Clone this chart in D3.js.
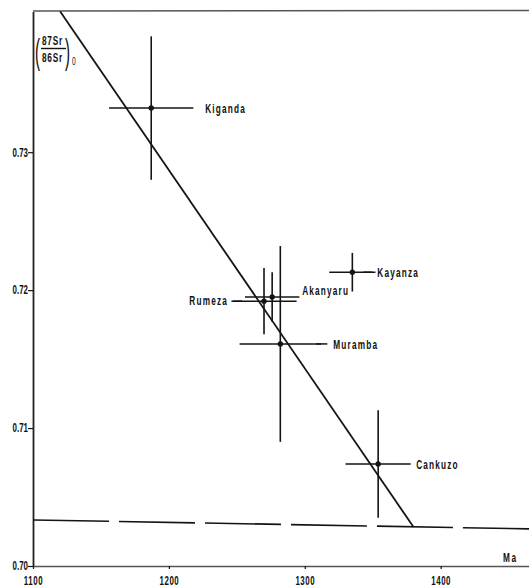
<!DOCTYPE html>
<html>
<head>
<meta charset="utf-8">
<script src="https://cdn.jsdelivr.net/npm/d3@7"></script>
<style>
  html, body { margin: 0; padding: 0; background: #fff; }
  svg { display: block; }
  text { font-family: "Liberation Sans", Arial, sans-serif; fill: #111; }
</style>
</head>
<body>
<svg id="chart" width="529" height="588"></svg>
<script>
// ---- data ----
const samples = ["Kiganda", "Rumeza", "Akanyaru", "Kayanza", "Muramba", "Cankuzo"];
const ages = [1187, 1270, 1276, 1335, 1282, 1354];           // Ma
const ageErr = [31, 24, 20, 17, 30, 24];                     // ± Ma
const ratios = [0.7332, 0.7192, 0.7195, 0.7213, 0.7161, 0.7074]; // (87Sr/86Sr)0
const ratioErr = [0.0052, 0.0024, 0.0018, 0.0014, 0.0071, 0.0039];
const regressionAges = [1120, 1380];
const regressionRatios = [0.7402, 0.70283];
const seawaterAges = [1100, 1465];
const seawaterRatios = [0.70334, 0.70269];
const xTicks = [1100, 1200, 1300, 1400];
const xTickLabels = ["1100", "1200", "1300", "1400"];
const yTicks = [0.70, 0.71, 0.72, 0.73];
const yTickLabels = ["0.70", "0.71", "0.72", "0.73"];

// ---- scales ----
const svg = d3.select("#chart");
const x = d3.scaleLinear().domain([1100, 1465]).range([33, 529]);
const y = d3.scaleLinear().domain([0.70, 0.7402]).range([566, 11.5]);

const ink = "#141414";
const SX = 0.66; // condensed lettering

function ctext(parent, px, py, str, opts = {}) {
  const gg = parent.append("g").attr("transform", `translate(${px},${py}) scale(${opts.sx || SX},1)`);
  return gg.append("text")
    .attr("x", 0).attr("y", 0)
    .attr("text-anchor", opts.anchor || "start")
    .attr("font-size", opts.size || 12)
    .attr("font-weight", opts.weight || "bold")
    .attr("letter-spacing", opts.ls != null ? opts.ls : 1.3)
    .text(str);
}

// top frame line
svg.append("line")
  .attr("x1", x(1100)).attr("x2", 529)
  .attr("y1", 11).attr("y2", 10.5)
  .attr("stroke", "#555").attr("stroke-width", 1.6);

// y axis
const yAxis = d3.axisLeft(y).tickValues(yTicks)
  .tickFormat((d, i) => yTickLabels[i]).tickSize(5).tickSizeOuter(0).tickPadding(4);
const gy = svg.append("g").attr("transform", `translate(${x(1100)},0)`).call(yAxis);
gy.select(".domain").attr("stroke", "#222").attr("stroke-width", 1.8);
gy.selectAll(".tick line").attr("stroke", ink).attr("stroke-width", 1.2);
gy.selectAll(".tick text").attr("font-size", 12).attr("font-family", "Liberation Sans, Arial")
  .attr("font-weight", "bold")
  .attr("fill", ink).attr("transform", `scale(${SX},1)`).attr("x", -5 / SX);

// x axis
const xAxis = d3.axisBottom(x).tickValues(xTicks)
  .tickFormat((d, i) => xTickLabels[i]).tickSize(3).tickSizeOuter(0).tickPadding(7);
const gx = svg.append("g").attr("transform", `translate(0,${y(0.70)})`).call(xAxis);
gx.select(".domain").attr("stroke", "#555").attr("stroke-width", 1.4);
gx.selectAll(".tick line").attr("stroke", ink).attr("stroke-width", 1.2);
gx.selectAll(".tick text").attr("font-size", 12).attr("font-family", "Liberation Sans, Arial")
  .attr("font-weight", "bold")
  .attr("fill", ink).attr("transform", `scale(${SX},1)`).attr("letter-spacing", 0.8);

// "Ma" label
ctext(svg, 503, 562, "Ma", { size: 12.5, ls: 2.5 });

// y-axis title: (87Sr/86Sr)0
ctext(svg, 35, 64, "(", { size: 36, ls: 0, sx: 0.42, weight: "normal" });
ctext(svg, 42, 45, "87Sr", { size: 12.5, ls: 1.2 });
svg.append("line").attr("x1", 41).attr("x2", 66).attr("y1", 48.5).attr("y2", 48.5)
  .attr("stroke", ink).attr("stroke-width", 1.4);
ctext(svg, 42, 62, "86Sr", { size: 12.5, ls: 1.2 });
ctext(svg, 65, 64, ")", { size: 36, ls: 0, sx: 0.42, weight: "normal" });
ctext(svg, 72, 65, "0", { size: 10, ls: 0, weight: "normal" });

// seawater dashed line
svg.append("line")
  .attr("x1", x(seawaterAges[0])).attr("y1", y(seawaterRatios[0]))
  .attr("x2", x(seawaterAges[1])).attr("y2", y(seawaterRatios[1]))
  .attr("stroke", ink).attr("stroke-width", 1.6)
  .attr("stroke-dasharray", "76,10");

// regression line
svg.append("line")
  .attr("x1", x(regressionAges[0])).attr("y1", y(regressionRatios[0]))
  .attr("x2", x(regressionAges[1])).attr("y2", y(regressionRatios[1]))
  .attr("stroke", ink).attr("stroke-width", 1.8);

// samples
const data = samples.map((s, i) => ({
  name: s, age: ages[i], ae: ageErr[i], r: ratios[i], re: ratioErr[i]
}));
const g = svg.append("g");
data.forEach(d => {
  g.append("line")
    .attr("x1", x(d.age - d.ae)).attr("x2", x(d.age + d.ae))
    .attr("y1", y(d.r)).attr("y2", y(d.r))
    .attr("stroke", ink).attr("stroke-width", 1.5);
  g.append("line")
    .attr("x1", x(d.age)).attr("x2", x(d.age))
    .attr("y1", y(d.r + d.re)).attr("y2", y(d.r - d.re))
    .attr("stroke", ink).attr("stroke-width", 1.6);
  g.append("circle").attr("cx", x(d.age)).attr("cy", y(d.r)).attr("r", 2.7).attr("fill", ink);
});

// labels with leader dashes
const labelSpec = {
  "Kiganda":  { dx: 54, dy: 5, dash: null },
  "Rumeza":   { dx: -36, dy: 4, dash: [-31, -22], anchor: "end" },
  "Akanyaru": { dx: 30, dy: -2, dash: null },
  "Kayanza":  { dx: 25, dy: 5, dash: [11, 20] },
  "Muramba":  { dx: 53, dy: 5, dash: [36, 47] },
  "Cankuzo":  { dx: 38, dy: 5, dash: null }
};
data.forEach(d => {
  const s = labelSpec[d.name];
  const cx = x(d.age), cy = y(d.r);
  if (s.dash) {
    g.append("line").attr("x1", cx + s.dash[0]).attr("x2", cx + s.dash[1])
      .attr("y1", cy).attr("y2", cy).attr("stroke", ink).attr("stroke-width", 1.5);
  }
  ctext(g, cx + s.dx, cy + s.dy, d.name, { anchor: s.anchor, size: 12.5, ls: 1.8 });
});
</script>
</body>
</html>
